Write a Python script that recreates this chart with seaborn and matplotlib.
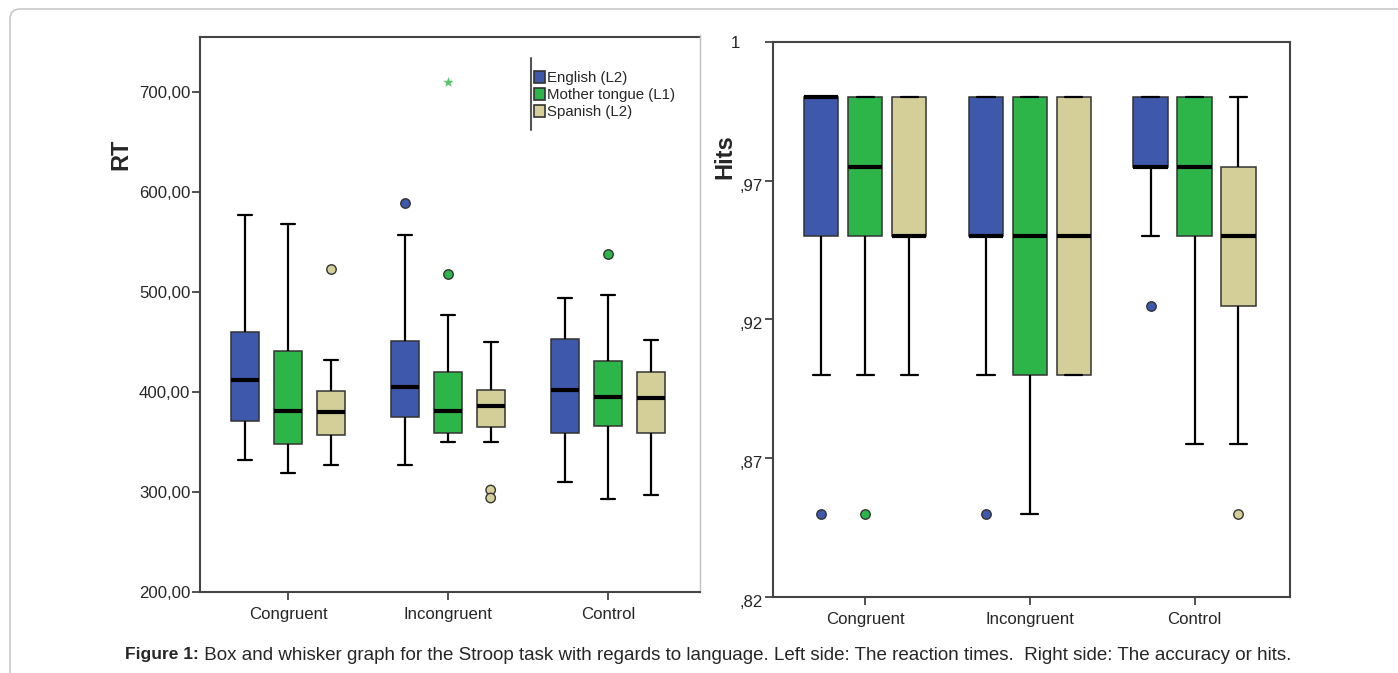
import numpy as np
import pandas as pd
import matplotlib
matplotlib.use("Agg")
import matplotlib.pyplot as plt
import matplotlib.transforms as mtransforms
from matplotlib.patches import FancyBboxPatch
from matplotlib.lines import Line2D
from matplotlib.text import Annotation
import seaborn as sns

# ---------------- data ----------------
conditions = ["Congruent", "Incongruent", "Control"]
languages = ["English (L2)", "Mother tongue (L1)", "Spanish (L2)"]

# five-number summaries [min whisker, Q1, median, Q3, max whisker] per condition
rt_english = [[332, 371, 412, 460, 577], [327, 375, 405, 451, 557], [310, 359, 402, 453, 494]]
rt_mother = [[319, 348, 381, 441, 568], [350, 359, 381, 420, 477], [293, 366, 395, 431, 497]]
rt_spanish = [[327, 357, 380, 401, 432], [350, 365, 386, 402, 450], [297, 359, 394, 420, 452]]

rt_out_cond = ["Congruent", "Incongruent", "Incongruent", "Incongruent", "Incongruent", "Control"]
rt_out_lang = ["Spanish (L2)", "English (L2)", "Mother tongue (L1)", "Spanish (L2)", "Spanish (L2)",
               "Mother tongue (L1)"]
rt_out_val = [523, 589, 518, 302, 294, 538]
rt_ext_cond = ["Incongruent"]
rt_ext_lang = ["Mother tongue (L1)"]
rt_ext_val = [710]

hits_english = [[0.90, 0.95, 1.0, 1.0, 1.0], [0.90, 0.95, 0.95, 1.0, 1.0], [0.95, 0.975, 0.975, 1.0, 1.0]]
hits_mother = [[0.90, 0.95, 0.975, 1.0, 1.0], [0.85, 0.90, 0.95, 1.0, 1.0], [0.875, 0.95, 0.975, 1.0, 1.0]]
hits_spanish = [[0.90, 0.95, 0.95, 1.0, 1.0], [0.90, 0.90, 0.95, 1.0, 1.0], [0.875, 0.925, 0.95, 0.975, 1.0]]

hits_out_cond = ["Congruent", "Congruent", "Incongruent", "Control", "Control"]
hits_out_lang = ["English (L2)", "Mother tongue (L1)", "English (L2)", "English (L2)", "Spanish (L2)"]
hits_out_val = [0.85, 0.85, 0.85, 0.925, 0.85]

rt_ticks = [200, 300, 400, 500, 600, 700]
rt_ticklabels = ["200,00", "300,00", "400,00", "500,00", "600,00", "700,00"]
hits_ticks = [0.82, 0.87, 0.92, 0.97, 1.02]
hits_ticklabels = [",82", ",87", ",92", ",97", "1     "]

colors = ["#3E58AB", "#2DB54A", "#D4CF98"]
palette = dict(zip(languages, colors))


def long_frame(per_lang, value_name):
    rows = []
    for lang, summ in zip(languages, per_lang):
        for cond, vals in zip(conditions, summ):
            for v in vals:
                rows.append({"cond": cond, "lang": lang, value_name: v})
    return pd.DataFrame(rows)


rt_df = long_frame([rt_english, rt_mother, rt_spanish], "RT")
hits_df = long_frame([hits_english, hits_mother, hits_spanish], "Hits")
rt_out = pd.DataFrame({"cond": rt_out_cond, "lang": rt_out_lang, "RT": rt_out_val})
rt_ext = pd.DataFrame({"cond": rt_ext_cond, "lang": rt_ext_lang, "RT": rt_ext_val})
hits_out = pd.DataFrame({"cond": hits_out_cond, "lang": hits_out_lang, "Hits": hits_out_val})

# ---------------- style ----------------
sns.set_style("white")
plt.rcParams["font.family"] = ["Liberation Sans", "DejaVu Sans"]

W, H = 1398, 673
fig = plt.figure(figsize=(W / 100, H / 100), dpi=100)

ax1 = fig.add_axes([200 / W, 1 - 592 / H, 500 / W, 555 / H])
ax2 = fig.add_axes([773 / W, 1 - 597 / H, 517 / W, 555 / H])

edge = "#333333"
box_kws = dict(
    boxprops=dict(edgecolor=edge, linewidth=1.1),
    whiskerprops=dict(color="black", linewidth=1.6),
    capprops=dict(color="black", linewidth=1.6),
    medianprops=dict(color="black", linewidth=3.0),
)


def draw(ax, df, out, col, gap):
    sns.boxplot(data=df, x="cond", y=col, hue="lang", order=conditions, hue_order=languages,
                palette=palette, saturation=1, width=0.8, gap=gap, whis=(0, 100),
                linecolor=edge, ax=ax, **box_kws)
    sns.stripplot(data=out, x="cond", y=col, hue="lang", order=conditions, hue_order=languages,
                  palette=palette, dodge=True, jitter=False, size=6.8, linewidth=1.0,
                  edgecolor=edge, legend=False, ax=ax, zorder=5)


draw(ax1, rt_df, rt_out, "RT", 0.34)
sns.stripplot(data=rt_ext, x="cond", y="RT", hue="lang", order=conditions, hue_order=languages,
              palette={l: "#55C466" for l in languages}, dodge=True, jitter=False, marker="*",
              size=8, linewidth=0, legend=False, ax=ax1, zorder=5)
draw(ax2, hits_df, hits_out, "Hits", 0.22)

# axes cosmetics
spine_c = "#444444"
for ax in (ax1, ax2):
    for s in ax.spines.values():
        s.set_color(spine_c)
        s.set_linewidth(1.5)
    ax.tick_params(axis="both", which="both", direction="out", length=6, width=1.3,
                   color=spine_c, labelsize=12.1, pad=1, left=True, bottom=True)
    ax.set_xlabel("")
    ax.tick_params(axis="x", pad=5)

ax1.spines["right"].set_visible(False)
ax1.set_xlim(-0.55, 2.575)
ax1.set_ylim(200, 755)
ax1.set_yticks(rt_ticks)
ax1.set_yticklabels(rt_ticklabels)
ax1.set_ylabel("RT", fontsize=17, fontweight="bold")
ax1.yaxis.set_label_coords(-0.135, 0.789)

ax2.set_xlim(-0.56, 2.58)
ax2.set_ylim(0.82, 1.02)
ax2.set_yticks(hits_ticks)
ax2.set_yticklabels(hits_ticklabels)
ax2.set_ylabel("Hits", fontsize=17, fontweight="bold")
ax2.yaxis.set_label_coords(-0.07, 0.794)
shift = mtransforms.ScaledTranslation(0, -4 / 100, fig.dpi_scale_trans)
for lab in ax2.get_yticklabels()[:-1]:
    lab.set_transform(lab.get_transform() + shift)

# legend
sns.move_legend(ax1, "upper left", bbox_to_anchor=(0.668, 0.939), frameon=False, title=None,
                fontsize=10.8, handlelength=0.75, handleheight=0.85, handletextpad=0.1,
                labelspacing=0.2, borderpad=0, borderaxespad=0)
for h in ax1.get_legend().legend_handles:
    h.set_edgecolor(edge)
    h.set_linewidth(1.2)
ax1.add_line(Line2D([0.662, 0.662], [0.832, 0.962], transform=ax1.transAxes, color="#555555",
                    lw=1.5, clip_on=False))
if ax2.get_legend() is not None:
    ax2.get_legend().remove()

# frames
fig.add_artist(FancyBboxPatch((0.10, -0.6), 14.5, 6.64 + 0.6, boxstyle="round,pad=0,rounding_size=0.1",
                              transform=fig.dpi_scale_trans, fill=False, ec="#c9c9c9", lw=1.2))
fig.add_artist(Line2D([7.0, 7.0], [(H - 35) / 100, (H - 590) / 100], transform=fig.dpi_scale_trans,
                      color="#c0c0c0", lw=1.0))

# caption
t1 = fig.text(125 / W, 1 - 655 / H, "Figure 1:", fontsize=12.5, fontweight="bold", va="center", ha="left")
fig.add_artist(Annotation(
    " Box and whisker graph for the Stroop task with regards to language. Left side: The reaction times.  "
    "Right side: The accuracy or hits.",
    xy=(1, 0.5), xycoords=t1, xytext=(0, 0), textcoords="offset points",
    fontsize=13.5, va="center", ha="left"))

fig.savefig("out.png", dpi=100)
